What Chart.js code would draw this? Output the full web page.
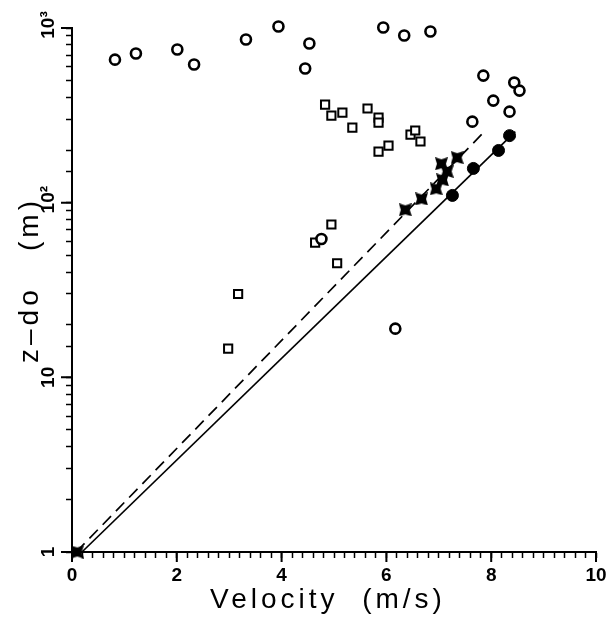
<!DOCTYPE html>
<html>
<head>
<meta charset="utf-8">
<script src="https://cdn.jsdelivr.net/npm/chart.js@4.4.1/dist/chart.umd.min.js"></script>
<style>
  html, body { margin: 0; padding: 0; background: #fff; }
  #wrap { width: 607px; height: 617px; }
</style>
</head>
<body>
<div id="wrap"><canvas id="chart"></canvas></div>
<script>
// open circles
const openCircleV = [0.82, 1.22, 2.01, 2.33, 3.32, 3.94, 4.53, 4.45, 5.94, 6.34, 6.84, 7.85, 8.44, 8.54, 8.04, 8.35, 7.64, 4.76, 6.17];
const openCircleZ = [659, 714, 753, 618, 859, 1020, 815, 586, 1006, 906, 955, 534, 487, 438, 384, 332, 291, 62, 19];

// open squares
const squareV = [4.83, 4.95, 5.16, 5.35, 5.64, 5.85, 5.85, 5.85, 6.04, 6.46, 6.55, 6.65, 4.95, 4.64, 5.06, 3.17, 2.98];
const squareZ = [364, 315, 328, 269, 346, 307, 287, 196, 212, 245, 259, 224, 75, 59, 45, 30, 14.6];

// filled circles
const filledV = [8.35, 8.14, 7.66, 7.26];
const filledZ = [242, 199, 157, 110];

// stars
const starV = [7.35, 7.05, 7.16, 7.07, 6.95, 6.67, 6.36, 0.1];
const starZ = [181, 167, 151, 135, 120, 105, 91, 1];

// fitted lines (end points)
const solidV = [0.19, 8.46];
const solidZ = [1, 255];
const dashV = [0.08, 7.83];
const dashZ = [1, 248];

const xTitle = 'Velocity  (m/s)';
const yTitle = 'z\u2013do   (m)';
const yTickValues = [1, 10, 100, 1000];
const yTickLabels = ['1', '10', '10\u00b2', '10\u00b3'];
const xLabelValues = [0, 2, 4, 6, 8, 10];

function pts(xs, ys) {
  return xs.map((x, i) => ({ x: x, y: ys[i] }));
}

function makeStar() {
  const c = document.createElement('canvas');
  c.width = 13;
  c.height = 13;
  const g = c.getContext('2d');
  g.fillStyle = '#000';
  g.beginPath();
  g.moveTo(0, 0);
  g.lineTo(6.5, 2);
  g.lineTo(13, 0);
  g.lineTo(11, 6.5);
  g.lineTo(13, 13);
  g.lineTo(6.5, 11);
  g.lineTo(0, 13);
  g.lineTo(2, 6.5);
  g.closePath();
  g.fill();
  return c;
}

// axis titles (letter-spaced) + rotated y tick labels + long major ticks
const extras = {
  id: 'extras',
  afterDraw(chart) {
    const ctx = chart.ctx;
    const xs = chart.scales.x;
    const ys = chart.scales.y;
    const area = chart.chartArea;
    ctx.save();
    ctx.strokeStyle = '#000';
    ctx.lineWidth = 2;
    ctx.beginPath();
    yTickValues.forEach(v => {
      const py = ys.getPixelForValue(v);
      ctx.moveTo(area.left - 11, py);
      ctx.lineTo(area.left, py);
    });
    xLabelValues.forEach(v => {
      const px = xs.getPixelForValue(v);
      ctx.moveTo(px, area.bottom);
      ctx.lineTo(px, area.bottom + 10);
    });
    ctx.stroke();

    ctx.fillStyle = '#000';
    ctx.font = 'bold 19px "Liberation Sans", Arial, sans-serif';
    ctx.textAlign = 'center';
    ctx.textBaseline = 'middle';
    yTickValues.forEach((v, i) => {
      const py = ys.getPixelForValue(v);
      ctx.save();
      ctx.translate(49, py);
      ctx.rotate(-Math.PI / 2);
      ctx.fillText(yTickLabels[i], i > 1 ? 3 : 0, 0);
      ctx.restore();
    });

    ctx.font = '28px "Liberation Sans", Arial, sans-serif';
    ctx.letterSpacing = '4px';
    ctx.fillText(xTitle, 328, 600);
    ctx.translate(30, 280);
    ctx.rotate(-Math.PI / 2);
    ctx.fillText(yTitle, 0, 0);
    ctx.restore();
  }
};

const tickFont = { family: '"Liberation Sans", Arial, sans-serif', size: 19, weight: 'bold' };

new Chart(document.getElementById('chart'), {
  type: 'scatter',
  data: {
    datasets: [
      {
        data: pts(solidV, solidZ),
        showLine: true,
        borderColor: '#000',
        borderWidth: 1.7,
        pointRadius: 0,
        clip: false
      },
      {
        data: pts(dashV, dashZ),
        showLine: true,
        borderColor: '#000',
        borderWidth: 1.7,
        borderDash: [12, 7],
        pointRadius: 0,
        clip: false
      },
      {
        data: pts(openCircleV, openCircleZ),
        pointStyle: 'circle',
        pointRadius: 5,
        borderWidth: 2.6,
        borderColor: '#000',
        backgroundColor: '#fff',
        clip: false
      },
      {
        data: pts(squareV, squareZ),
        pointStyle: 'rect',
        pointRadius: 5.8,
        borderWidth: 2,
        borderColor: '#000',
        backgroundColor: '#fff',
        clip: false
      },
      {
        data: pts(filledV, filledZ),
        pointStyle: 'circle',
        pointRadius: 6,
        borderWidth: 1,
        borderColor: '#000',
        backgroundColor: '#000',
        clip: false
      },
      {
        data: pts(starV, starZ),
        pointStyle: makeStar(),
        pointRadius: 6,
        clip: false
      }
    ]
  },
  options: {
    responsive: true,
    maintainAspectRatio: false,
    animation: false,
    layout: { padding: { top: 28, right: 11, left: 0, bottom: 0 } },
    plugins: {
      legend: { display: false },
      tooltip: { enabled: false }
    },
    scales: {
      x: {
        type: 'linear',
        min: 0,
        max: 10,
        afterFit: s => {
          s.height = 65;
          s.paddingLeft = 0;
          s.paddingRight = 0;
        },
        border: { color: '#000', width: 2 },
        grid: {
          drawOnChartArea: false,
          color: '#000',
          tickColor: '#000',
          tickLength: 6,
          tickWidth: 1.5
        },
        ticks: {
          stepSize: 0.2,
          autoSkip: false,
          maxRotation: 0,
          padding: 6,
          color: '#000',
          font: tickFont,
          callback: v => (Number.isInteger(v) && v % 2 === 0 ? String(v) : '')
        }
      },
      y: {
        type: 'logarithmic',
        min: 1,
        max: 1000,
        afterFit: s => { s.width = 72; },
        border: { color: '#000', width: 2 },
        grid: {
          drawOnChartArea: false,
          color: '#000',
          tickColor: '#000',
          tickLength: 6,
          tickWidth: 1.5
        },
        ticks: {
          display: false,
          autoSkip: false
        }
      }
    }
  },
  plugins: [extras]
});
</script>
</body>
</html>
